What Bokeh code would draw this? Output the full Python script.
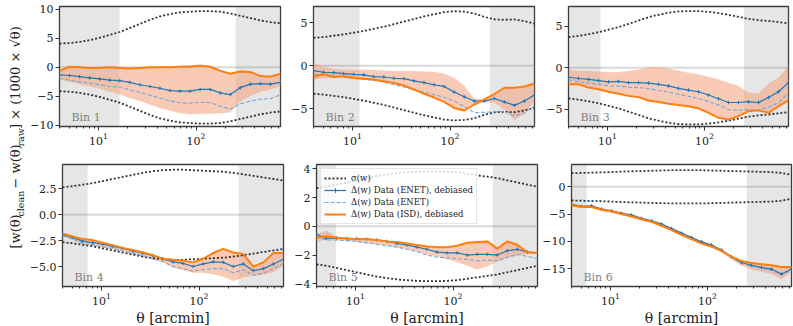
import math
from bokeh.plotting import figure
from bokeh.models import (Range1d, FixedTicker, CustomJSTickFormatter, BoxAnnotation,
                          Span, Label, Legend, LegendItem)
from bokeh.layouts import row, column
from bokeh.embed import file_html
from bokeh.resources import INLINE

FONT = "DejaVu Serif"

# ---------------- data ----------------
THETA = [3.98, 5.05, 6.40, 8.11, 10.28, 13.03, 16.52, 20.94, 26.55, 33.65, 42.66, 54.08,
         68.55, 86.90, 110.2, 139.6, 177.0, 224.4, 284.4, 360.6, 457.1, 579.4, 734.5]

BIN_NAMES = ["Bin 1", "Bin 2", "Bin 3", "Bin 4", "Bin 5", "Bin 6"]
SCALE_CUT_LOW = [16.4, 11.8, 8.5, 7.2, 6.3, 5.7]
SCALE_CUT_HIGH = [255, 255, 255, 255, 255, 255]

sig1 = [4.1, 4.2, 4.4, 4.7, 5.1, 5.6, 6.1, 6.8, 7.5, 8.2, 8.8, 9.2, 9.5, 9.6, 9.7, 9.7, 9.6, 9.3, 8.9, 8.5, 8.1, 7.8, 7.6]
enet_deb1 = [-1.3, -1.4, -1.6, -1.8, -2.0, -2.2, -2.3, -2.6, -3.0, -3.3, -3.6, -4.0, -4.1, -4.1, -3.8, -3.8, -4.4, -4.7, -3.5, -2.9, -2.8, -2.9, -2.6]
enet1 = [-1.9, -2.2, -2.5, -2.7, -3.0, -3.3, -3.4, -3.9, -4.3, -4.8, -5.3, -5.8, -6.1, -6.2, -6.0, -6.1, -6.7, -7.2, -6.3, -5.8, -5.5, -5.4, -4.7]
isd1 = [-0.6, 0.1, 0.0, -0.1, -0.1, 0.0, -0.1, -0.2, -0.1, 0.0, 0.0, 0.0, 0.1, 0.1, 0.3, 0.1, -0.6, -1.1, -0.7, -0.8, -1.5, -1.6, -1.1]
band_lo1 = [-2.1, -2.5, -2.9, -3.3, -3.7, -4.2, -4.7, -5.3, -5.8, -6.4, -7.0, -7.5, -7.9, -8.1, -8.0, -8.0, -7.9, -7.8, -5.9, -5.0, -4.2, -3.8, -3.2]
band_hi1 = [-0.4, 0.2, 0.1, 0.0, 0.0, 0.1, 0.0, -0.1, 0.0, 0.1, 0.1, 0.2, 0.3, 0.4, 0.5, 0.3, -0.4, -1.0, -0.6, -0.7, -1.4, -1.5, -1.0]

sig2 = [3.25, 3.35, 3.5, 3.65, 3.85, 4.05, 4.3, 4.55, 4.85, 5.15, 5.45, 5.75, 6.0, 6.25, 6.35, 6.3, 6.1, 5.7, 5.4, 5.35, 5.4, 5.2, 4.9]
enet_deb2 = [-0.55, -0.75, -0.8, -0.9, -1.0, -1.05, -1.25, -1.3, -1.45, -1.5, -1.75, -1.95, -2.2, -2.4, -3.05, -3.6, -4.1, -4.1, -3.8, -4.2, -4.6, -4.1, -3.4]
enet2 = [-0.95, -1.1, -1.15, -1.3, -1.5, -1.55, -1.7, -1.9, -2.2, -2.45, -2.8, -3.05, -3.35, -3.65, -4.1, -4.7, -5.45, -5.4, -5.35, -5.3, -5.85, -5.45, -4.7]
isd2 = [-1.3, -0.95, -1.3, -1.2, -1.4, -1.5, -1.6, -1.8, -2.0, -2.3, -2.75, -3.25, -3.7, -4.2, -4.9, -5.2, -4.5, -3.9, -3.3, -2.55, -2.55, -2.4, -2.05]
band_lo2 = [-1.6, -1.45, -1.4, -1.45, -1.5, -1.6, -1.75, -1.9, -2.1, -2.4, -2.8, -3.25, -3.7, -4.2, -4.9, -5.2, -4.6, -4.2, -4.3, -5.1, -6.3, -5.6, -4.1]
band_hi2 = [0.35, -0.1, -0.35, -0.45, -0.45, -0.45, -0.5, -0.55, -0.6, -0.6, -0.6, -0.65, -0.7, -0.9, -1.4, -2.3, -3.8, -3.9, -3.3, -2.55, -2.55, -2.4, -2.05]

sig3 = [3.7, 3.85, 4.05, 4.3, 4.6, 4.9, 5.3, 5.7, 6.1, 6.4, 6.65, 6.8, 6.85, 6.85, 6.75, 6.6, 6.4, 6.15, 5.9, 5.75, 5.65, 5.5, 5.35]
enet_deb3 = [-1.15, -1.3, -1.4, -1.55, -1.7, -1.65, -1.8, -1.8, -1.85, -2.0, -2.2, -2.5, -2.7, -2.9, -3.3, -3.75, -4.2, -4.2, -4.1, -4.2, -3.6, -2.9, -1.8]
enet3 = [-1.45, -1.7, -1.85, -2.0, -2.2, -2.2, -2.35, -2.4, -2.5, -2.75, -2.95, -3.2, -3.45, -3.7, -4.1, -4.5, -5.05, -5.15, -5.05, -5.15, -4.75, -4.25, -3.0]
isd3 = [-2.0, -2.0, -2.4, -2.6, -2.9, -3.15, -3.4, -3.55, -3.95, -4.15, -4.35, -4.5, -4.65, -4.9, -5.45, -6.05, -6.25, -5.85, -5.25, -5.15, -5.45, -4.65, -3.95]
band_lo3 = isd3
band_hi3 = [-0.2, -0.35, -0.4, -0.45, -0.55, -0.5, -0.4, -0.2, 0.05, 0.1, -0.1, -0.35, -0.6, -0.8, -1.1, -1.4, -1.8, -2.2, -3.0, -3.1, -1.9, -1.2, 0.2]

sig4 = [2.65, 2.75, 2.9, 3.05, 3.25, 3.45, 3.65, 3.85, 4.05, 4.2, 4.3, 4.35, 4.35, 4.3, 4.25, 4.2, 4.15, 4.05, 3.9, 3.75, 3.6, 3.45, 3.3]
enet_deb4 = [-1.9, -2.2, -2.55, -2.7, -2.85, -3.05, -3.25, -3.5, -3.7, -3.95, -4.25, -4.55, -4.7, -5.0, -4.75, -4.55, -4.6, -5.0, -4.75, -5.4, -5.2, -4.75, -4.3]
enet4 = [-2.0, -2.35, -2.75, -2.9, -3.1, -3.25, -3.5, -3.7, -3.95, -4.25, -4.5, -5.0, -5.2, -5.45, -5.3, -5.2, -5.2, -5.6, -5.3, -5.85, -5.65, -5.2, -4.7]
isd4 = [-1.8, -2.1, -2.35, -2.45, -2.7, -2.95, -3.2, -3.4, -3.65, -3.9, -4.25, -4.35, -4.45, -4.6, -4.25, -3.7, -3.3, -3.65, -3.8, -5.0, -4.6, -3.7, -3.7]
band_lo4 = [-2.1, -2.45, -2.85, -3.0, -3.2, -3.35, -3.6, -3.8, -4.05, -4.35, -4.6, -5.1, -5.35, -5.6, -5.6, -5.75, -6.0, -6.4, -6.05, -5.9, -5.8, -5.55, -4.9]
band_hi4 = isd4

sig5 = [2.65, 2.75, 2.9, 3.05, 3.2, 3.35, 3.5, 3.6, 3.7, 3.75, 3.8, 3.82, 3.82, 3.8, 3.75, 3.65, 3.55, 3.45, 3.35, 3.2, 3.05, 2.9, 2.75]
enet_deb5 = [-0.55, -0.85, -0.8, -0.85, -0.85, -0.9, -0.95, -1.05, -1.2, -1.3, -1.45, -1.6, -1.8, -1.85, -1.85, -2.0, -1.95, -1.95, -2.0, -1.7, -1.6, -1.8, -1.85]
enet5 = [-0.7, -0.95, -0.95, -1.0, -1.05, -1.15, -1.25, -1.35, -1.45, -1.6, -1.75, -2.0, -2.15, -2.2, -2.25, -2.3, -2.4, -2.35, -2.4, -2.15, -1.95, -2.1, -2.25]
isd5 = [-0.8, -0.7, -0.8, -0.85, -0.9, -0.9, -0.95, -1.05, -1.1, -1.2, -1.3, -1.4, -1.45, -1.45, -1.35, -1.15, -1.1, -1.05, -1.55, -1.05, -1.3, -1.8, -1.85]
band_lo5 = [-1.1, -0.9, -0.95, -1.0, -1.1, -1.2, -1.25, -1.35, -1.45, -1.6, -1.75, -1.95, -2.1, -2.3, -2.5, -2.75, -3.0, -2.8, -2.45, -2.2, -2.05, -1.95, -1.9]
band_hi5 = [-0.55, -0.3, -0.75, -0.8, -0.85, -0.85, -0.9, -1.0, -1.05, -1.15, -1.25, -1.35, -1.4, -1.4, -1.3, -1.1, -1.05, -1.0, -1.5, -1.0, -1.2, -1.75, -1.8]

sig6 = [2.5, 2.55, 2.6, 2.65, 2.7, 2.8, 2.85, 2.9, 2.95, 3.0, 3.05, 3.05, 3.05, 3.05, 3.0, 2.95, 2.9, 2.85, 2.8, 2.75, 2.7, 2.55, 2.2]
enet_deb6 = [-3.2, -3.6, -3.5, -4.1, -4.4, -4.85, -5.2, -5.8, -6.25, -6.85, -7.65, -8.5, -9.3, -10.1, -10.7, -11.6, -12.85, -13.9, -14.4, -14.8, -15.1, -16.0, -15.1]
enet6 = [-3.3, -3.7, -3.6, -4.2, -4.5, -5.0, -5.35, -5.95, -6.4, -7.0, -7.8, -8.65, -9.45, -10.25, -10.85, -11.75, -13.0, -14.05, -14.6, -15.0, -15.3, -16.2, -15.3]
isd6 = [-3.4, -3.7, -3.7, -4.2, -4.5, -5.0, -5.45, -5.95, -6.4, -7.15, -7.95, -8.8, -9.6, -10.4, -10.95, -11.75, -12.85, -13.6, -14.0, -14.2, -14.4, -14.7, -14.7]
band_lo6 = [-3.5, -3.9, -3.85, -4.4, -4.75, -5.2, -5.6, -6.2, -6.65, -7.3, -8.1, -8.95, -9.75, -10.55, -11.15, -12.05, -13.3, -14.5, -15.2, -15.6, -16.0, -17.0, -15.7]
band_hi6 = [-3.0, -3.4, -3.35, -3.9, -4.2, -4.6, -5.0, -5.6, -6.05, -6.65, -7.45, -8.3, -9.1, -9.9, -10.5, -11.4, -12.6, -13.5, -13.9, -14.1, -14.3, -14.6, -14.6]

SIGMA = [sig1, sig2, sig3, sig4, sig5, sig6]
ENET_DEB = [enet_deb1, enet_deb2, enet_deb3, enet_deb4, enet_deb5, enet_deb6]
ENET = [enet1, enet2, enet3, enet4, enet5, enet6]
ISD = [isd1, isd2, isd3, isd4, isd5, isd6]
BAND_LO = [band_lo1, band_lo2, band_lo3, band_lo4, band_lo5, band_lo6]
BAND_HI = [band_hi1, band_hi2, band_hi3, band_hi4, band_hi5, band_hi6]

Y_LIMITS = [(-10.2, 10.5), (-7.06, 6.9), (-7.1, 7.4), (-6.93, 4.85), (-4.19, 4.3), (-18.3, 4.1)]
Y_TICKS = [[-10, -5, 0, 5, 10], [-5, 0, 5], [-5, 0, 5], [-5.0, -2.5, 0.0, 2.5], [-4, -2, 0, 2, 4], [-15, -10, -5, 0]]
Y_DECIMALS = [0, 0, 0, 1, 0, 0]

X_MAJOR = [10, 100]
X_MINOR = [4, 5, 6, 7, 8, 9, 20, 30, 40, 50, 60, 70, 80, 90, 200, 300, 400, 500, 600, 700]

LEGEND_LABELS = ["σ(w)", "Δ(w) Data (ENET), debiased", "Δ(w) Data (ENET)", "Δ(w) Data (ISD), debiased"]

# ---------------- styles ----------------
BLUE = "#1f77b4"
LIGHTBLUE = "#6fa8dc"
ORANGE = "#ff7f0e"
BAND = "#f4a07a"
TXT = "#222222"

COLS = [(33, 221, 2), (31, 221, 2), (32, 220, 4)]   # border left, frame width, border right
ROWS = [(6, 120, 36), (2, 122, 39)]                  # border top, frame height, border bottom
LABEL_W = 26
TOTAL_H = sum(sum(r) for r in ROWS)


def make_panel(k):
    r, c = divmod(k, 3)
    bl, fw, br = COLS[c]
    bt, fh, bb = ROWS[r]
    p = figure(x_axis_type="log", x_range=Range1d(THETA[0], THETA[-1]),
               y_range=Range1d(*Y_LIMITS[k]),
               frame_width=fw, frame_height=fh,
               min_border_left=bl, min_border_right=br,
               min_border_top=bt, min_border_bottom=bb,
               output_backend="svg", toolbar_location=None)
    p.grid.visible = False
    p.outline_line_color = "#3a3a3a"
    p.outline_line_width = 1.3
    p.background_fill_color = "white"
    p.border_fill_color = "white"

    p.add_layout(BoxAnnotation(right=SCALE_CUT_LOW[k], fill_color="#808080", fill_alpha=0.2,
                               line_color=None, level="underlay"))
    p.add_layout(BoxAnnotation(left=SCALE_CUT_HIGH[k], fill_color="#808080", fill_alpha=0.2,
                               line_color=None, level="underlay"))
    p.add_layout(Span(location=0, dimension="width", line_color="#808080", line_alpha=0.3,
                      line_width=2, level="underlay"))

    p.varea(x=THETA, y1=BAND_LO[k], y2=BAND_HI[k], fill_color=BAND, fill_alpha=0.55)
    s_up = p.line(THETA, SIGMA[k], line_color="#111111", line_alpha=0.85, line_width=1.8, line_dash="2 2")
    p.line(THETA, [-s for s in SIGMA[k]], line_color="#111111", line_alpha=0.85, line_width=1.8, line_dash="2 2")
    enet_r = p.line(THETA, ENET[k], line_color=LIGHTBLUE, line_width=1.1, line_dash="4 2")
    deb_l = p.line(THETA, ENET_DEB[k], line_color=BLUE, line_width=1.2)
    deb_s = p.scatter(THETA, ENET_DEB[k], marker="cross", size=3.5, line_color=BLUE, line_width=1)
    isd_r = p.line(THETA, ISD[k], line_color=ORANGE, line_width=2)

    p.xaxis.ticker = FixedTicker(ticks=X_MAJOR, minor_ticks=X_MINOR)
    p.yaxis.ticker = FixedTicker(ticks=Y_TICKS[k], minor_ticks=[])
    p.yaxis.formatter = CustomJSTickFormatter(
        code="const s = Math.abs(tick).toFixed(%d); return (tick < 0 ? '\\u2212' : '') + s;" % Y_DECIMALS[k])
    for ax in (p.xaxis[0], p.yaxis[0]):
        ax.axis_line_color = None
        ax.major_tick_in = 0
        ax.major_tick_out = 4
        ax.minor_tick_in = 0
        ax.minor_tick_out = 2
        ax.major_tick_line_color = "#333333"
        ax.minor_tick_line_color = "#333333"
        ax.major_label_text_font = FONT
        ax.major_label_text_font_size = "11px"
        ax.major_label_text_color = TXT
        ax.major_label_standoff = 2
    if r == 1:
        p.xaxis.axis_label = "θ [arcmin]"
        p.xaxis.axis_label_text_font = FONT
        p.xaxis.axis_label_text_font_size = "14px"
        p.xaxis.axis_label_text_font_style = "normal"
        p.xaxis.axis_label_text_color = TXT
        p.xaxis.axis_label_standoff = 2

    p.add_layout(Label(x=12, y=3, x_units="screen", y_units="screen", text=BIN_NAMES[k],
                       text_font=FONT, text_font_size="11px", text_color="#808080"))

    if k == 4:
        items = [LegendItem(label=LEGEND_LABELS[0], renderers=[s_up]),
                 LegendItem(label=LEGEND_LABELS[1], renderers=[deb_l, deb_s]),
                 LegendItem(label=LEGEND_LABELS[2], renderers=[enet_r]),
                 LegendItem(label=LEGEND_LABELS[3], renderers=[isd_r])]
        leg = Legend(items=items, location="top_left")
        leg.margin = 4
        leg.padding = 3
        leg.spacing = 0
        leg.glyph_width = 22
        leg.glyph_height = 12
        leg.label_height = 12
        leg.label_standoff = 5
        leg.label_text_font = FONT
        leg.label_text_font_size = "8.5px"
        leg.label_text_color = TXT
        leg.border_line_color = "#cccccc"
        leg.background_fill_alpha = 0.8
        p.add_layout(leg)
    return p


panels = [make_panel(k) for k in range(6)]

# y-axis label column (rotated, with subscripts)
lab = figure(x_range=Range1d(0, LABEL_W), y_range=Range1d(0, TOTAL_H),
             frame_width=LABEL_W, frame_height=TOTAL_H,
             min_border=0, x_axis_location=None, y_axis_location=None,
             output_backend="svg", toolbar_location=None)
lab.grid.visible = False
lab.outline_line_color = None
pieces = [("[w(θ)", 77, 14.5, "13px"), ("clean", 109, 19.5, "9.5px"), ("− w(θ)", 137, 14.5, "13px"),
          ("raw", 179, 19.5, "9.5px"), ("] × (1000 × √θ)", 196.5, 14.5, "13px")]
for txt, yy, xx, fs in pieces:
    lab.add_layout(Label(x=xx, y=yy, text=txt, angle=math.pi / 2, text_font=FONT,
                         text_font_size=fs, text_color=TXT,
                         text_align="left", text_baseline="middle"))

layout = row(lab, column(row(*panels[:3]), row(*panels[3:])))

html = file_html(layout, INLINE, "chart")
with open("out.html", "w") as f:
    f.write(html)
